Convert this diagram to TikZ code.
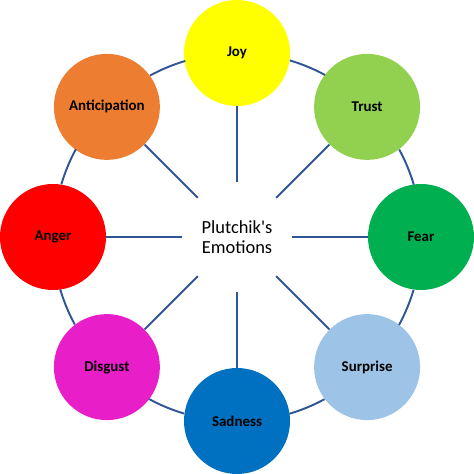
\documentclass[tikz,border=0pt]{standalone}
\usepackage{fontspec}
\setmainfont{Carlito}[Ligatures=TeXOff]
\definecolor{joyyellow}{HTML}{FFFF00}
\definecolor{trustgreen}{HTML}{92D050}
\definecolor{feargreen}{HTML}{00B050}
\definecolor{surpriseblue}{HTML}{9DC3E6}
\definecolor{sadnessblue}{HTML}{0070C0}
\definecolor{disgustpink}{HTML}{E81EC8}
\definecolor{angerred}{HTML}{FF0000}
\definecolor{anticiporange}{HTML}{ED7D31}
\definecolor{linkblue}{HTML}{2F5597}
\begin{document}
\begin{tikzpicture}[
    emotion/.style={circle, minimum size=2.12cm, inner sep=0pt, font=\fontsize{8.5}{10}\selectfont\bfseries},
    link/.style={draw=linkblue, line width=1.1pt}]
    \useasboundingbox (-4.74,-4.74) rectangle (4.74,4.74);
    \node[circle, minimum size=2.2cm, inner sep=0pt, align=center, font=\fontsize{10.5}{11.5}\selectfont] (centre) at (0,0) {Plutchik's\\Emotions};
    \foreach \name/\ang/\col/\lab in {joy/90/joyyellow/Joy, trust/45/trustgreen/Trust, fear/0/feargreen/Fear,
            surprise/-45/surpriseblue/Surprise, sadness/-90/sadnessblue/Sadness, disgust/-135/disgustpink/Disgust,
            anger/180/angerred/Anger, anticipation/135/anticiporange/Anticipation}
        \node[emotion, fill=\col] (\name) at (\ang:3.68) {\lab};
    % spokes
    \foreach \name in {joy, trust, fear, surprise, sadness, disgust, anger, anticipation}
        \draw[link] (centre) -- (\name);
    % outer ring, arcs of radius 3.68 from one circle to the next
    \foreach \a/\ang in {joy/90, trust/45, fear/0, surprise/-45, sadness/-90,
            disgust/-135, anger/180, anticipation/135}
        \draw[link] (\a.{\ang-98.28}) arc[start angle=\ang-16.56, delta angle=-11.88, radius=3.68];
\end{tikzpicture}
\end{document}
